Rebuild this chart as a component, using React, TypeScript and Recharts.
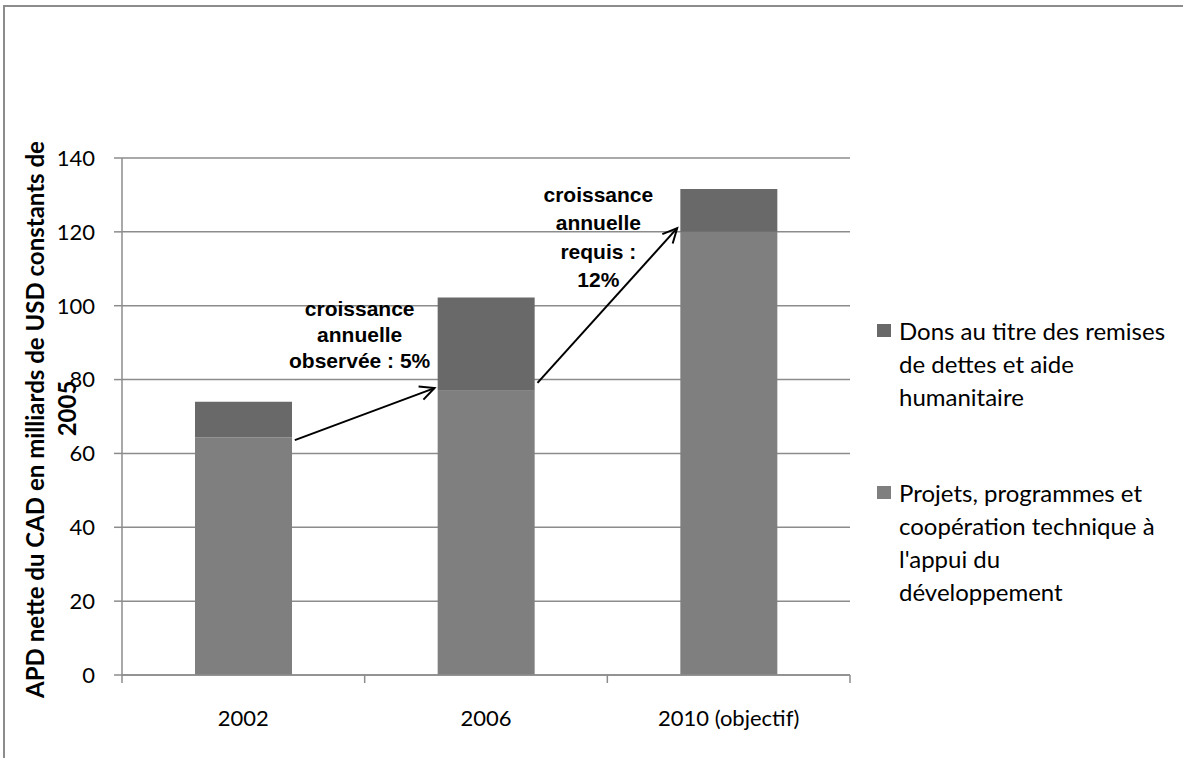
import React from "react";
import { Bar, BarChart, CartesianGrid, Label, Legend, ReferenceLine, XAxis, YAxis } from "recharts";

const categories = ["2002", "2006", "2010 (objectif)"];
const projets = [64.3, 77, 120];
const dons = [9.7, 25.2, 11.6];
const yTicks = [0, 20, 40, 60, 80, 100, 120, 140];

const projetsLines = ["Projets, programmes et", "coopération technique à", "l'appui du", "développement"];
const donsLines = ["Dons au titre des remises", "de dettes et aide", "humanitaire"];

// growth arrows (category + value at each end)
const arrowFrom = [
  { cat: "2002", value: 63.6 },
  { cat: "2006", value: 79.1 },
];
const arrowTo = [
  { cat: "2006", value: 77.7 },
  { cat: "2010 (objectif)", value: 121 },
];
const arrowNotes = [
  ["croissance", "annuelle", "observée : 5%"],
  ["croissance", "annuelle", "requis :", "12%"],
];

const data = categories.map((label, i) => ({ label, projets: projets[i], dons: dons[i] }));

const W = 1183;
const H = 758;
const PLOT_LEFT = 122;
const PLOT_RIGHT = 850;
const BAND = (PLOT_RIGHT - PLOT_LEFT) / categories.length;
const BAR = 97;
const DARK = "#696969";
const LIGHT = "#7f7f7f";
const GRID = "#8c8c8c";
const FONT = "Lato, 'Open Sans', sans-serif";
const BOLD = "'Liberation Sans', Arial, sans-serif";

// where each note sits relative to its arrow's middle
const noteShift = [
  { dx: -5, dy: -98, lead: 26 },
  { dx: -9, dy: -104, lead: 28.5 },
];

function arrowShape(i: number) {
  return (p: any) => {
    const x1 = p.x1 + BAR / 2 + 3;
    const x2 = p.x2 - BAR / 2 - 3;
    const y1 = p.y1;
    const y2 = p.y2;
    const a = Math.atan2(y2 - y1, x2 - x1);
    const len = 16;
    const h1x = x2 - len * Math.cos(a - 0.45);
    const h1y = y2 - len * Math.sin(a - 0.45);
    const h2x = x2 - len * Math.cos(a + 0.45);
    const h2y = y2 - len * Math.sin(a + 0.45);
    const mx = (x1 + x2) / 2 + noteShift[i].dx;
    const my = (y1 + y2) / 2 + noteShift[i].dy;
    return (
      <g>
        <line x1={x1} y1={y1} x2={x2} y2={y2} stroke="#000" strokeWidth={2} />
        <polyline points={`${h1x},${h1y} ${x2},${y2} ${h2x},${h2y}`} fill="none" stroke="#000" strokeWidth={2} />
        <text textAnchor="middle" fontFamily={BOLD} fontWeight="bold" fontSize={21} fill="#000">
          {arrowNotes[i].map((t, k) => (
            <tspan key={k} x={mx} y={my + k * noteShift[i].lead}>
              {t}
            </tspan>
          ))}
        </text>
      </g>
    );
  };
}

function XTick(props: any) {
  const { x, y, payload, index } = props;
  const axisY = y - 18;
  const left = x - BAND / 2;
  return (
    <g>
      <line x1={left} y1={axisY} x2={left} y2={axisY + 8} stroke={GRID} strokeWidth={1.5} />
      {index === categories.length - 1 && (
        <line x1={x + BAND / 2} y1={axisY} x2={x + BAND / 2} y2={axisY + 8} stroke={GRID} strokeWidth={1.5} />
      )}
      <text x={x} y={y + 33} textAnchor="middle" fontFamily={FONT} fontSize={22} fill="#000">
        {payload.value}
      </text>
    </g>
  );
}

function YTitle(props: any) {
  const vb = props.viewBox;
  const cy = vb.y + vb.height / 2;
  return (
    <g fontFamily={FONT} fontWeight="bold" fontSize={24} fill="#000">
      <text x={44} y={cy + 3} transform={`rotate(-90, 44, ${cy + 3})`} textAnchor="middle">
        APD nette du CAD en milliards de USD constants de
      </text>
      <text x={76} y={cy - 8} transform={`rotate(-90, 76, ${cy - 8})`} textAnchor="middle">
        2005
      </text>
    </g>
  );
}

function LegendBox() {
  const entries = [
    { color: DARK, lines: donsLines },
    { color: LIGHT, lines: projetsLines },
  ];
  return (
    <div style={{ fontFamily: FONT, fontSize: 24, lineHeight: "33px", color: "#000" }}>
      {entries.map((e, i) => (
        <div key={i} style={{ position: "relative", paddingLeft: 37, marginBottom: i === 0 ? 63 : 0 }}>
          <span
            style={{ position: "absolute", left: 15, top: 10, width: 14, height: 13, background: e.color }}
          />
          {e.lines.map((l, k) => (
            <div key={k} style={{ whiteSpace: "nowrap" }}>
              {l}
            </div>
          ))}
        </div>
      ))}
    </div>
  );
}

export default function App() {
  return (
    <div style={{ position: "absolute", left: 0, top: 0, width: W, height: H, overflow: "hidden", background: "#fff" }}>
      <div
        style={{
          position: "absolute",
          left: 3,
          top: 5,
          width: W + 20,
          height: H + 20,
          borderTop: `2px solid ${GRID}`,
          borderLeft: `2px solid ${GRID}`,
        }}
      />
      <BarChart
        width={W}
        height={H}
        data={data}
        margin={{ top: 158, right: W - PLOT_RIGHT, bottom: 33, left: 82 }}
        style={{ position: "absolute", left: 0, top: 0 }}
      >
        <CartesianGrid vertical={false} stroke={GRID} strokeWidth={1.5} />
        <XAxis
          dataKey="label"
          height={50}
          stroke={GRID}
          strokeWidth={1.5}
          tickLine={false}
          tickSize={8}
          tickMargin={10}
          tick={<XTick />}
          interval={0}
        />
        <YAxis
          width={40}
          domain={[0, 140]}
          ticks={yTicks}
          stroke={GRID}
          strokeWidth={1.5}
          tickSize={8}
          tickMargin={19}
          tick={{ fontFamily: FONT, fontSize: 22, fill: "#000" }}
          label={<Label content={<YTitle />} />}
        />
        <Bar dataKey="projets" stackId="a" fill={LIGHT} barSize={BAR} isAnimationActive={false} />
        <Bar dataKey="dons" stackId="a" fill={DARK} barSize={BAR} isAnimationActive={false} />
        {arrowFrom.map((f, i) => (
          <ReferenceLine
            key={i}
            segment={[
              { x: f.cat, y: f.value },
              { x: arrowTo[i].cat, y: arrowTo[i].value },
            ]}
            shape={arrowShape(i)}
            ifOverflow="visible"
          />
        ))}
        <Legend
          layout="horizontal"
          verticalAlign="middle"
          align="center"
          wrapperStyle={{ left: 862, top: 314, width: 320 }}
          content={() => <LegendBox />}
        />
      </BarChart>
    </div>
  );
}
